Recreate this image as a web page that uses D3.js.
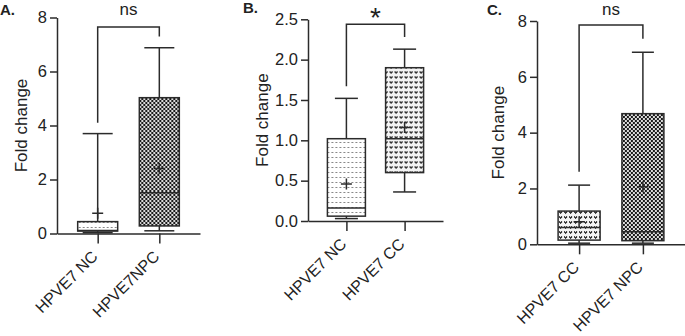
<!DOCTYPE html>
<html lang="en">
<head>
<meta charset="UTF-8" />
<title>Fold change box plots</title>
<script src="https://d3js.org/d3.v7.min.js"></script>
<style>
  body { margin: 0; background: #fff; }
  svg text { font-family: "Liberation Sans", Arial, Helvetica, sans-serif; fill: #222; }
</style>
</head>
<body>
<svg id="chart" width="685" height="336"></svg>
<script>
// box stats are [min, q1, median, q3, max, mean]
const catsA = ["HPVE7 NC", "HPVE7NPC"];
const boxesA = [[0.03, 0.09, 0.11, 0.44, 3.7, 0.75], [0.1, 0.28, 1.51, 5.03, 6.88, 2.41]];
const ticksA = [0, 2, 4, 6, 8];
const sigA = [4.1, 7.65, 7.3]; // left leg end, bracket top, right leg end
const sigLabelA = "ns";

const catsB = ["HPVE7 NC", "HPVE7 CC"];
const boxesB = [[0.03, 0.06, 0.16, 1.02, 1.52, 0.46], [0.36, 0.6, 1.02, 1.9, 2.13, 1.16]];
const ticksB = [0, 0.5, 1.0, 1.5, 2.0, 2.5];
const sigB = [1.67, 2.44, 2.28];
const sigLabelB = "*";

const catsC = ["HPVE7 CC", "HPVE7 NPC"];
const boxesC = [[0.04, 0.15, 0.6, 1.19, 2.12, 0.81], [0.04, 0.13, 0.45, 4.68, 6.88, 2.06]];
const ticksC = [0, 2, 4, 6, 8];
const sigC = [2.6, 7.86, 7.36];
const sigLabelC = "ns";

const svg = d3.select("#chart");
const ink = "#2b2b2b";

// fill patterns
const defs = svg.append("defs");

const dash = defs.append("pattern").attr("id", "dash")
  .attr("patternUnits", "userSpaceOnUse").attr("width", 4).attr("height", 5);
dash.append("rect").attr("width", 4).attr("height", 5).attr("fill", "#fff");
dash.append("rect").attr("x", 1).attr("y", 2).attr("width", 2).attr("height", 1).attr("fill", "#888");

const check = defs.append("pattern").attr("id", "check")
  .attr("patternUnits", "userSpaceOnUse").attr("width", 4).attr("height", 4);
check.append("rect").attr("width", 4).attr("height", 4).attr("fill", "#dcdcdc");
check.append("rect").attr("width", 2).attr("height", 2).attr("fill", "#1a1a1a");
check.append("rect").attr("x", 2).attr("y", 2).attr("width", 2).attr("height", 2).attr("fill", "#1a1a1a");

const heart = defs.append("pattern").attr("id", "heart")
  .attr("patternUnits", "userSpaceOnUse").attr("width", 5).attr("height", 5);
heart.append("rect").attr("width", 5).attr("height", 5).attr("fill", "#f4f4f4");
heart.append("path").attr("d", "M0,1h1v1h-1zM2,1h1v1h-1zM0,2h3v1h-3zM1,3h1v1h-1z").attr("fill", "#333");

const panels = [
  { tag: "A.", tagX: 0, tagY: 15, cats: catsA, boxes: boxesA, ticks: ticksA, sig: sigA, sigLabel: sigLabelA,
    fills: ["dash", "check"], yMax: 8, fmt: d3.format("d"),
    left: 57, right: 200, top: 17.5, bottom: 233.5, boxW: 40, capW: 30, titleX: 27 },
  { tag: "B.", tagX: 243, tagY: 13, cats: catsB, boxes: boxesB, ticks: ticksB, sig: sigB, sigLabel: sigLabelB,
    fills: ["dash", "heart"], yMax: 2.5, fmt: d3.format(".1f"),
    left: 308, right: 443, top: 19.3, bottom: 221, boxW: 38, capW: 23, titleX: 268 },
  { tag: "C.", tagX: 487, tagY: 15, cats: catsC, boxes: boxesC, ticks: ticksC, sig: sigC, sigLabel: sigLabelC,
    fills: ["heart", "check"], yMax: 8, fmt: d3.format("d"),
    left: 537, right: 685, top: 21, bottom: 244.3, boxW: 42, capW: 22, titleX: 504 }
];

function drawPanel(p) {
  const g = svg.append("g");
  const y = d3.scaleLinear().domain([0, p.yMax]).range([p.bottom, p.top]);
  const x = d3.scalePoint().domain(p.cats).range([p.left, p.right]).padding(0.66);

  // y axis
  const ya = g.append("g").attr("transform", `translate(${p.left},0)`)
    .call(d3.axisLeft(y).tickValues(p.ticks).tickSize(7).tickSizeOuter(0).tickPadding(3).tickFormat(p.fmt));
  ya.selectAll("path,line").attr("stroke", ink).attr("stroke-width", 1.5);
  ya.selectAll("text").attr("font-size", 16.5).attr("fill", ink).attr("font-family", null);

  // x axis
  const xa = g.append("g").attr("transform", `translate(0,${p.bottom})`)
    .call(d3.axisBottom(x).tickSize(10).tickSizeOuter(0).tickFormat(""));
  xa.selectAll("path,line").attr("stroke", ink).attr("stroke-width", 1.5);

  g.selectAll(".xlab").data(p.cats).join("text")
    .attr("class", "xlab")
    .attr("transform", (d) => `translate(${x(d) + 1},${p.bottom + 24}) rotate(-45)`)
    .attr("text-anchor", "end")
    .attr("font-size", 16)
    .text((d) => d);

  // axis title
  g.append("text")
    .attr("transform", `translate(${p.titleX},${(p.top + p.bottom) / 2}) rotate(-90)`)
    .attr("text-anchor", "middle")
    .attr("font-size", 17)
    .text("Fold change");

  // panel tag
  g.append("text").attr("x", p.tagX).attr("y", p.tagY)
    .attr("font-size", 15).attr("font-weight", "bold").text(p.tag);

  // boxes
  const items = p.cats.map((c, i) => ({ cat: c, s: p.boxes[i], fill: p.fills[i] }));
  const bx = g.selectAll(".box").data(items).join("g").attr("class", "box")
    .attr("transform", (d) => `translate(${x(d.cat)},0)`);

  // whiskers
  bx.append("line").attr("y1", (d) => y(d.s[4])).attr("y2", (d) => y(d.s[3]))
    .attr("stroke", ink).attr("stroke-width", 1.5);
  bx.append("line").attr("y1", (d) => y(d.s[1])).attr("y2", (d) => y(d.s[0]))
    .attr("stroke", ink).attr("stroke-width", 1.5);
  bx.append("line").attr("x1", -p.capW / 2).attr("x2", p.capW / 2)
    .attr("y1", (d) => y(d.s[4])).attr("y2", (d) => y(d.s[4]))
    .attr("stroke", ink).attr("stroke-width", 1.5);
  bx.append("line").attr("x1", -p.capW / 2).attr("x2", p.capW / 2)
    .attr("y1", (d) => y(d.s[0])).attr("y2", (d) => y(d.s[0]))
    .attr("stroke", ink).attr("stroke-width", 1.5);

  // box body
  bx.append("rect")
    .attr("x", -p.boxW / 2).attr("width", p.boxW)
    .attr("y", (d) => y(d.s[3]))
    .attr("height", (d) => y(d.s[1]) - y(d.s[3]))
    .attr("fill", (d) => `url(#${d.fill})`)
    .attr("stroke", ink).attr("stroke-width", 1.5);

  // median
  bx.append("line").attr("x1", -p.boxW / 2).attr("x2", p.boxW / 2)
    .attr("y1", (d) => y(d.s[2])).attr("y2", (d) => y(d.s[2]))
    .attr("stroke", ink).attr("stroke-width", 1.5);

  // mean marker
  bx.append("path")
    .attr("d", (d) => `M-5.5,${y(d.s[5])}h11M0,${y(d.s[5]) - 5.5}v11`)
    .attr("stroke", ink).attr("stroke-width", 1.5).attr("fill", "none");

  // significance bracket
  const x0 = x(p.cats[0]), x1 = x(p.cats[1]);
  g.append("path")
    .attr("d", `M${x0},${y(p.sig[0])}V${y(p.sig[1])}H${x1}V${y(p.sig[2])}`)
    .attr("fill", "none").attr("stroke", ink).attr("stroke-width", 1.5);
  const star = p.sigLabel === "*";
  g.append("text")
    .attr("x", (x0 + x1) / 2)
    .attr("y", star ? 27 : 15)
    .attr("text-anchor", "middle")
    .attr("font-size", star ? 28 : 17)
    .text(p.sigLabel);
}

panels.forEach(drawPanel);
</script>
</body>
</html>
